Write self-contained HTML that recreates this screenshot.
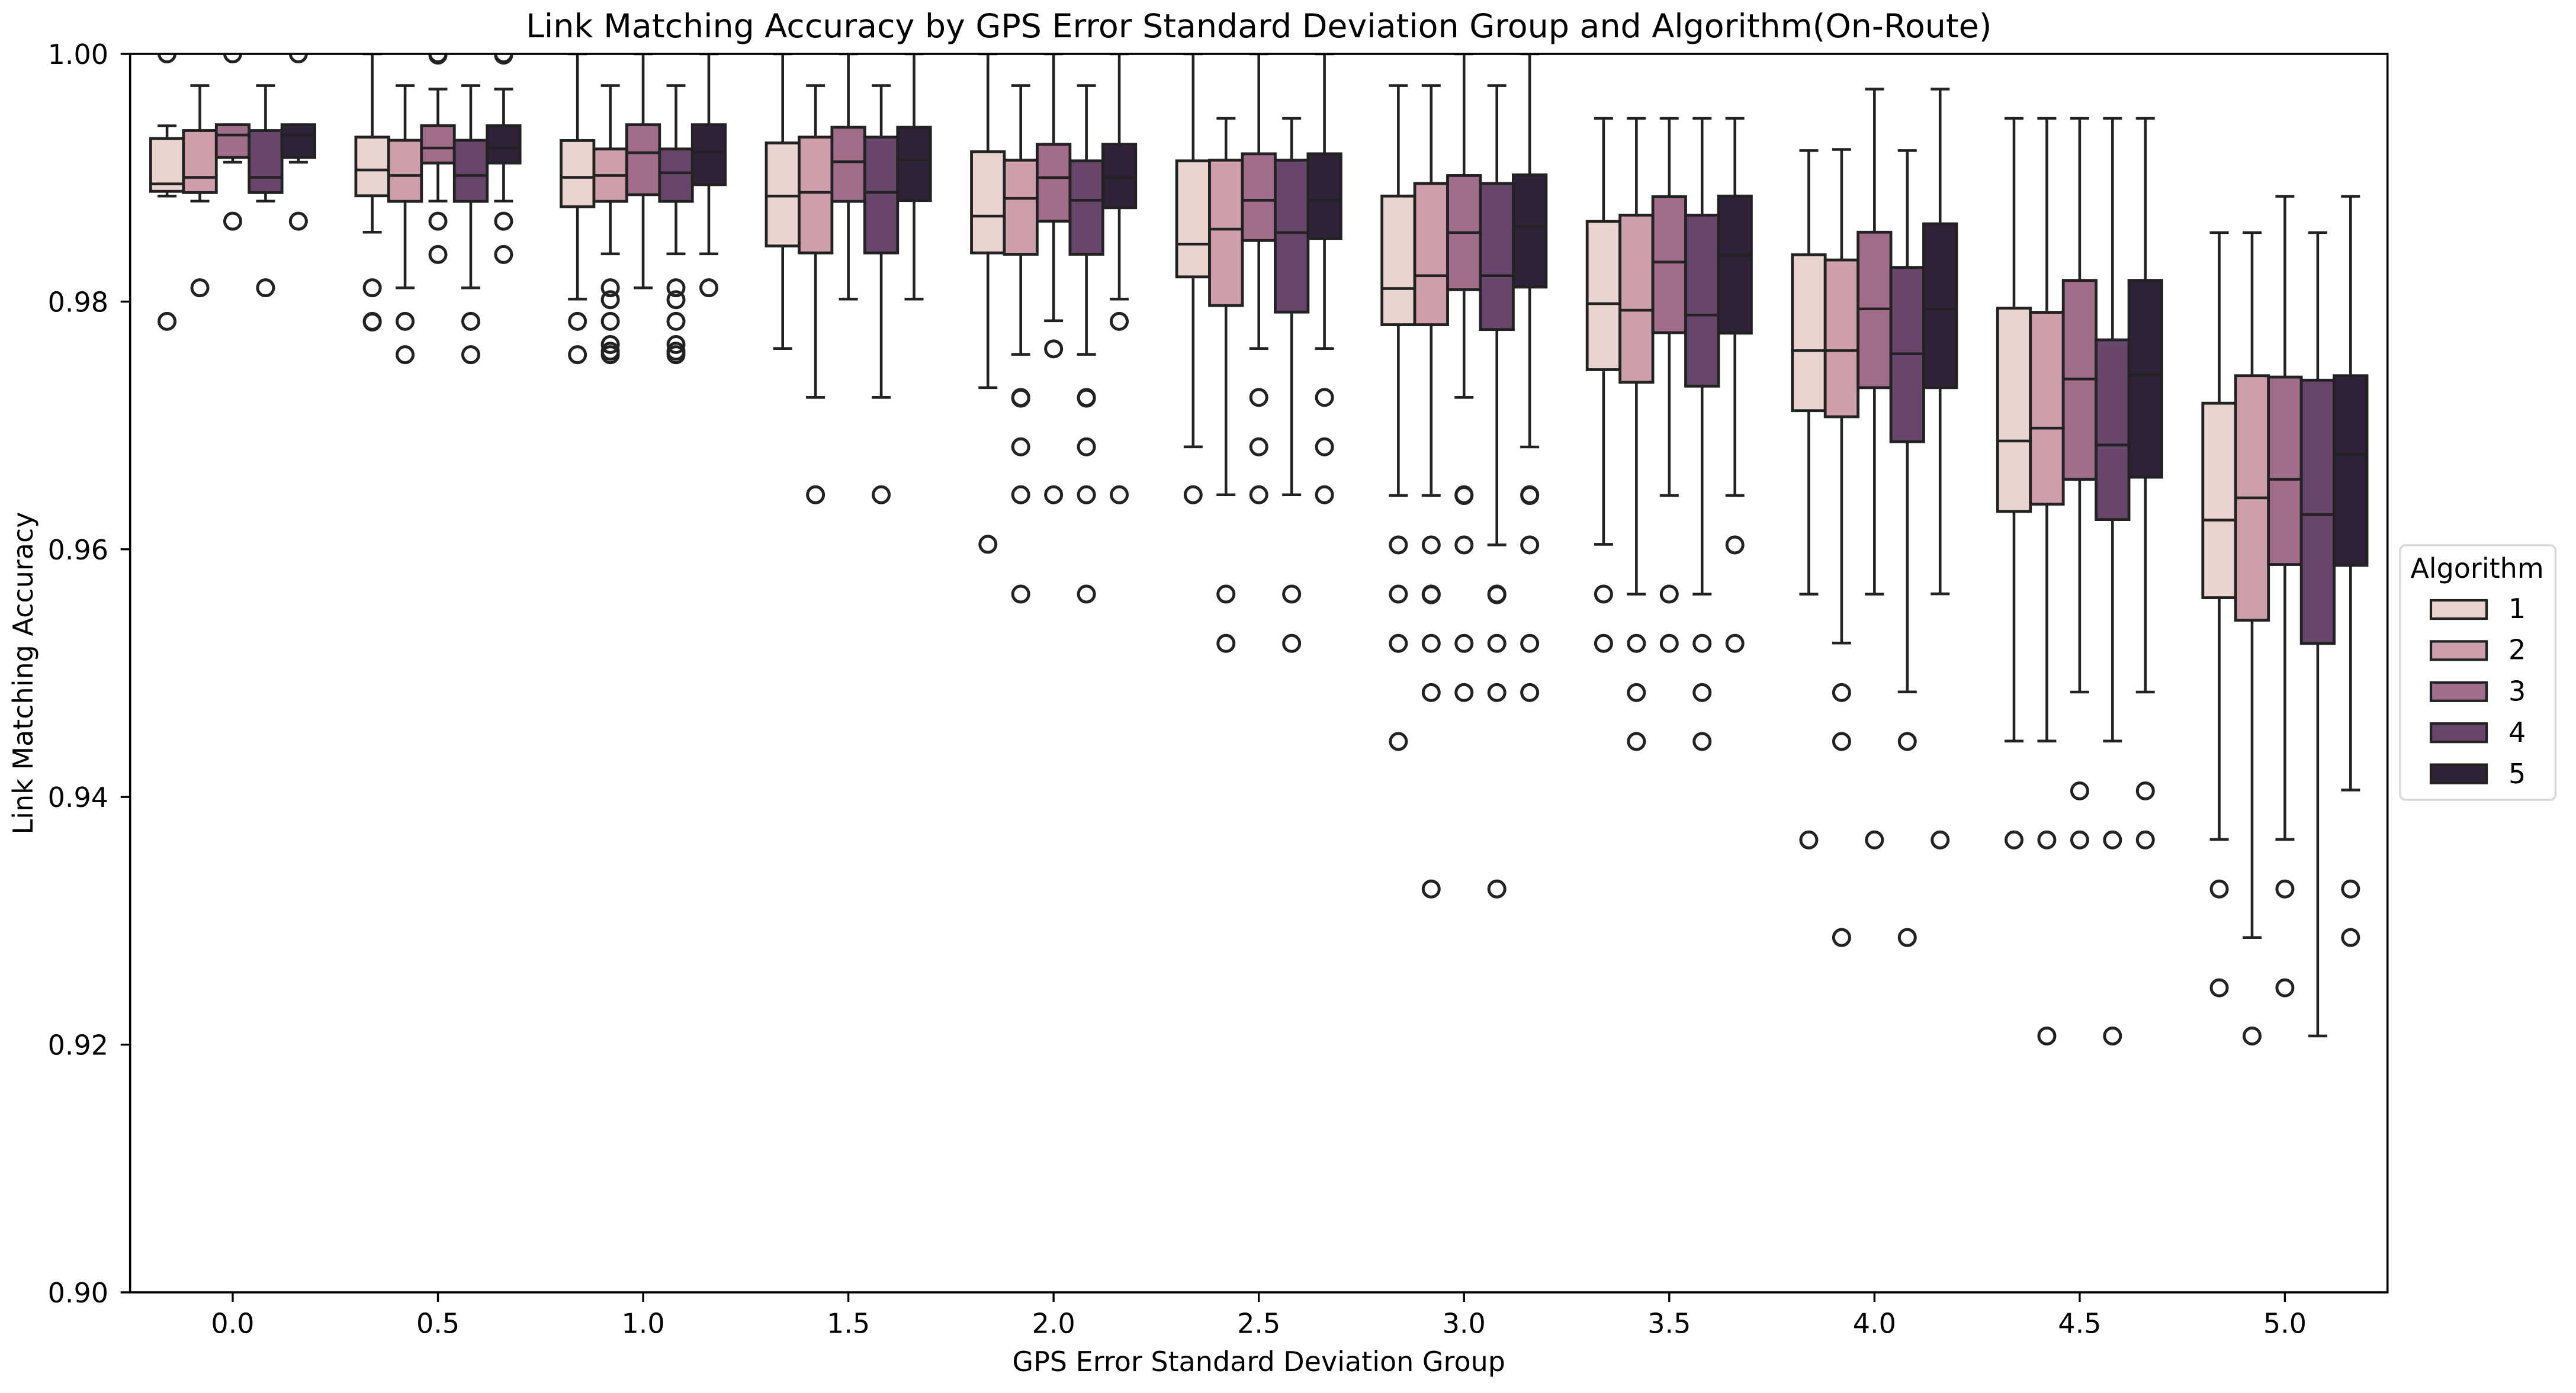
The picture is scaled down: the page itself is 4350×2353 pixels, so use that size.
<!DOCTYPE html>
<html lang="en">
<head>
<meta charset="utf-8">
<title>Link Matching Accuracy by GPS Error Standard Deviation Group and Algorithm(On-Route)</title>
<style>
html,body{margin:0;padding:0;background:#fff;}
svg{display:block;}
text{font-family:"DejaVu Sans","Liberation Sans",sans-serif;fill:#000;}
</style>
</head>
<body>
<svg id="chart" xmlns="http://www.w3.org/2000/svg" width="4350" height="2353" viewBox="0 0 4350 2353">
  <defs><clipPath id="plot-clip"><rect x="219.7" y="91" width="3812" height="2092"/></clipPath></defs>
  <rect x="0" y="0" width="4350" height="2353" fill="#ffffff"/>
  <g id="marks" clip-path="url(#plot-clip)"></g>
  <rect x="219.7" y="91" width="3812" height="2092" fill="none" stroke="#000" stroke-width="3.6"/>
  <g id="x-axis"></g>
  <g id="y-axis"></g>
  <text x="2125.7" y="63" font-size="55.4" text-anchor="middle">Link Matching Accuracy by GPS Error Standard Deviation Group and Algorithm(On-Route)</text>
  <text x="2125.7" y="2316" font-size="46" text-anchor="middle">GPS Error Standard Deviation Group</text>
  <text x="0" y="0" font-size="46" text-anchor="middle" transform="translate(55 1137) rotate(-90)">Link Matching Accuracy</text>
  <g id="legend">
    <rect x="4053" y="921" width="262.5" height="430" rx="9" fill="#fff" stroke="#d8d8d8" stroke-width="3.6"/>
    <text x="4183" y="976" font-size="46" text-anchor="middle">Algorithm</text>
  </g>
</svg>
<script>
const groupLabels = ["0.0","0.5","1.0","1.5","2.0","2.5","3.0","3.5","4.0","4.5","5.0"];
const algorithms = ["1","2","3","4","5"];
const palette = ["#e9d4d0","#ce9faa","#a26c8b","#68466b","#2e2138"];
const yTickValues = [0.90,0.92,0.94,0.96,0.98,1.00];

const whiskerHigh = [
  [.99419,.99744,.99428,.99744,.99428],
  [1,.99744,.99716,.99744,.99716],
  [1,.99744,1,.99744,1],
  [1,.99744,1,.99744,1],
  [1,.99744,1,.99744,1],
  [1,.99479,1,.99479,1],
  [.99744,.99744,1,.99744,1],
  [.99479,.99479,.99479,.99479,.99479],
  [.99219,.99228,.99716,.99219,.99716],
  [.99479,.99479,.99479,.99479,.99479],
  [.98557,.98557,.9885,.98557,.9885]
];
const q3Values = [
  [.99317,.99381,.99428,.99381,.99428],
  [.99328,.99302,.9942,.99302,.9942],
  [.993,.99232,.99428,.99232,.99428],
  [.99281,.99328,.99407,.99328,.99407],
  [.9921,.99142,.9927,.99136,.9927],
  [.99136,.99142,.99193,.99142,.99193],
  [.98852,.98954,.99018,.98954,.99023],
  [.98647,.98698,.98848,.98698,.98852],
  [.98378,.98336,.9856,.98276,.98628],
  [.97947,.97913,.98171,.97691,.98171],
  [.97179,.97401,.9739,.97365,.97401]
];
const medianValues = [
  [.9895,.99003,.99345,.99003,.99345],
  [.99063,.99018,.9924,.99018,.9924],
  [.99003,.99018,.99202,.9904,.99208],
  [.98852,.98882,.99129,.98882,.99142],
  [.9869,.98833,.99001,.98818,.99001],
  [.98464,.98585,.98818,.98557,.98818],
  [.98105,.98209,.98557,.98209,.98606],
  [.97983,.9793,.98319,.97891,.98374],
  [.97604,.97604,.97941,.97578,.97941],
  [.96874,.96978,.97375,.96842,.97407],
  [.96236,.96415,.96565,.96281,.96766]
];
const q1Values = [
  [.9889,.9888,.99164,.9888,.99164],
  [.98854,.98809,.99119,.98809,.99119],
  [.98766,.98809,.98863,.98809,.98944],
  [.98449,.98393,.98809,.98393,.98816],
  [.98393,.98382,.98649,.98382,.98758],
  [.98199,.97968,.98493,.97915,.9851],
  [.97813,.97813,.98096,.97774,.98117],
  [.9745,.97349,.97749,.97317,.97745],
  [.97119,.9707,.97305,.96869,.97305],
  [.96306,.96364,.96565,.9624,.96582],
  [.95609,.95427,.95877,.9524,.9587]
];
const whiskerLow = [
  [.98852,.98811,.99125,.98811,.99125],
  [.9856,.98111,.98811,.98111,.98811],
  [.9802,.98385,.98111,.98385,.98385],
  [.97621,.97226,.9802,.97226,.9802],
  [.97305,.97574,.97845,.97574,.9802],
  [.96827,.9644,.97621,.9644,.97621],
  [.96435,.96435,.97226,.96035,.96826],
  [.9604,.95638,.96435,.95638,.96435],
  [.95638,.95243,.95638,.94848,.9564],
  [.94451,.94451,.94847,.94451,.94847],
  [.93657,.92865,.93657,.9207,.94056]
];
const outlierValues = [
  [[1,.9784],[.98111],[1,.98649],[.98111],[1,.98649]],
  [[.98111,.9784,.97835],[.9784,.97571],[1,.9999,.98649,.9838],[.9784,.97571],[1,.9999,.98649,.9838]],
  [[.9784,.97571],[.98111,.98015,.9784,.97653,.97599,.97571],[],[.98111,.98015,.9784,.97653,.97599,.97571],[.98111]],
  [[],[.9644],[],[.9644],[]],
  [[.9604],[.97226,.9722,.96827,.9644,.95638],[.97618,.9644],[.97226,.9722,.96827,.9644,.95638],[.9784,.9644]],
  [[.9644],[.95638,.9524],[.97226,.96827,.9644],[.95638,.9524],[.97226,.96827,.9644]],
  [[.96035,.95638,.9524,.94448],[.96035,.95638,.95633,.9524,.94843,.93257],[.9644,.96434,.96035,.9524,.94843],[.95638,.95633,.9524,.94843,.93257],[.9644,.96434,.96035,.9524,.94843]],
  [[.95638,.9524],[.9524,.94843,.94448],[.95638,.9524],[.9524,.94843,.94448],[.96035,.9524]],
  [[.93653],[.94843,.94448,.92865],[.93653],[.94448,.92865],[.93653]],
  [[.93653],[.93653,.9207],[.94049,.93653],[.93653,.9207],[.94049,.93653]],
  [[.93257,.92459],[.9207],[.93257,.92459],[],[.93257,.92865]]
];

const NS = "http://www.w3.org/2000/svg";
const INK = "#222222";
const PLOT_LEFT = 219.7, PLOT_RIGHT = 4031.7, PLOT_TOP = 91, PLOT_BOTTOM = 2183;
const Y_MIN = 0.90, Y_MAX = 1.00;
const BOX_SHARE = 0.8;
const bandWidth = (PLOT_RIGHT - PLOT_LEFT) / groupLabels.length;
const boxWidth = bandWidth * BOX_SHARE / algorithms.length;

function yScale(v) { return PLOT_BOTTOM - (v - Y_MIN) / (Y_MAX - Y_MIN) * (PLOT_BOTTOM - PLOT_TOP); }
function xGroup(i) { return PLOT_LEFT + bandWidth * (i + 0.5); }
function xBox(i, k) { return xGroup(i) + (k - (algorithms.length - 1) / 2) * boxWidth; }

function make(parent, tag, props, content) {
  const el = document.createElementNS(NS, tag);
  for (const key in props) el.setAttribute(key, props[key]);
  if (content !== undefined) el.textContent = content;
  parent.appendChild(el);
  return el;
}

const marks = document.getElementById("marks");
const xAxis = document.getElementById("x-axis");
const yAxis = document.getElementById("y-axis");
const legend = document.getElementById("legend");

groupLabels.forEach(function (label, i) {
  const x = xGroup(i);
  const tick = make(xAxis, "line", {x1: x, x2: x, y1: PLOT_BOTTOM, y2: PLOT_BOTTOM + 16, stroke: "#000", "stroke-width": 3.4});
  
  
  const text = make(xAxis, "text", {x: x, y: 2251.5, "font-size": 46, "text-anchor": "middle"}, label);
  
  
});

yTickValues.forEach(function (v) {
  const y = yScale(v);
  const tick = make(yAxis, "line", {x1: PLOT_LEFT - 16, x2: PLOT_LEFT, y1: y, y2: y, stroke: "#000", "stroke-width": 3.4});
  
  
  const text = make(yAxis, "text", {x: 183, y: y + 17, "font-size": 46, "text-anchor": "end"}, v.toFixed(2));
  
  
});

groupLabels.forEach(function (label, i) {
  algorithms.forEach(function (alg, k) {
    const cx = xBox(i, k);
    const group = make(marks, "g", {});
    
    

    const upper = make(group, "line", {x1: cx, x2: cx, y1: yScale(q3Values[i][k]), y2: yScale(whiskerHigh[i][k]), stroke: INK, "stroke-width": 4.6});
    
    
    const lower = make(group, "line", {x1: cx, x2: cx, y1: yScale(q1Values[i][k]), y2: yScale(whiskerLow[i][k]), stroke: INK, "stroke-width": 4.6});
    
    
    const capHigh = make(group, "line", {x1: cx - 16, x2: cx + 16, y1: yScale(whiskerHigh[i][k]), y2: yScale(whiskerHigh[i][k]), stroke: INK, "stroke-width": 4.6});
    
    
    const capLow = make(group, "line", {x1: cx - 16, x2: cx + 16, y1: yScale(whiskerLow[i][k]), y2: yScale(whiskerLow[i][k]), stroke: INK, "stroke-width": 4.6});
    
    

    const box = make(group, "rect", {x: cx - boxWidth / 2, y: yScale(q3Values[i][k]), width: boxWidth, height: yScale(q1Values[i][k]) - yScale(q3Values[i][k]), fill: palette[k], stroke: INK, "stroke-width": 4.8});
    
    
    const median = make(group, "line", {x1: cx - boxWidth / 2, x2: cx + boxWidth / 2, y1: yScale(medianValues[i][k]), y2: yScale(medianValues[i][k]), stroke: INK, "stroke-width": 4.6});
    
    

    outlierValues[i][k].forEach(function (v) {
      const point = make(group, "circle", {cx: cx, cy: yScale(v), r: 13.5, fill: "none", stroke: INK, "stroke-width": 5});
      
      
    });
  });
});

algorithms.forEach(function (alg, k) {
  const swatchY = 1012 + k * 69.4;
  const swatch = make(legend, "rect", {x: 4105, y: swatchY + 2, width: 94, height: 31, fill: palette[k], stroke: INK, "stroke-width": 4.2});
  
  
  const text = make(legend, "text", {x: 4236, y: 1044 + k * 69.7, "font-size": 46}, alg);
  
  
});
</script>
</body>
</html>
